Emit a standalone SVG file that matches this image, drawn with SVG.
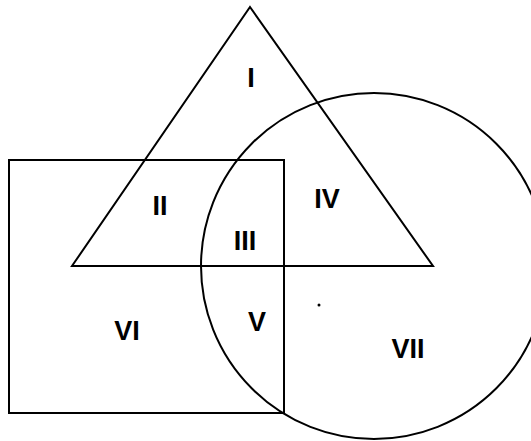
<svg xmlns="http://www.w3.org/2000/svg" width="531" height="441" viewBox="0 0 531 441">
<style>
.s{fill:none;stroke:#000;stroke-width:2;stroke-linejoin:miter}
.t{font-family:"Liberation Sans",Arial,sans-serif;font-weight:bold;font-size:27px;fill:#000;text-anchor:middle}
</style>
<rect width="531" height="441" fill="#fff"/>
<g id="shapes">
<g id="triangle"><polygon class="s" points="250,7 433,266 72,266"/></g>
<g id="rectangle"><rect class="s" x="9" y="160" width="275" height="253"/></g>
<g id="circle"><circle class="s" cx="374" cy="266" r="173"/></g>
</g>
<g id="labels">
<text class="t" x="251" y="87">I</text>
<text class="t" x="160" y="215">II</text>
<text class="t" x="245" y="250">III</text>
<text class="t" x="327" y="208">IV</text>
<text class="t" x="257" y="331">V</text>
<text class="t" x="127" y="340">VI</text>
<text class="t" x="408" y="358">VII</text>
</g>
<circle cx="319" cy="305" r="1.5" fill="#000"/>
</svg>
